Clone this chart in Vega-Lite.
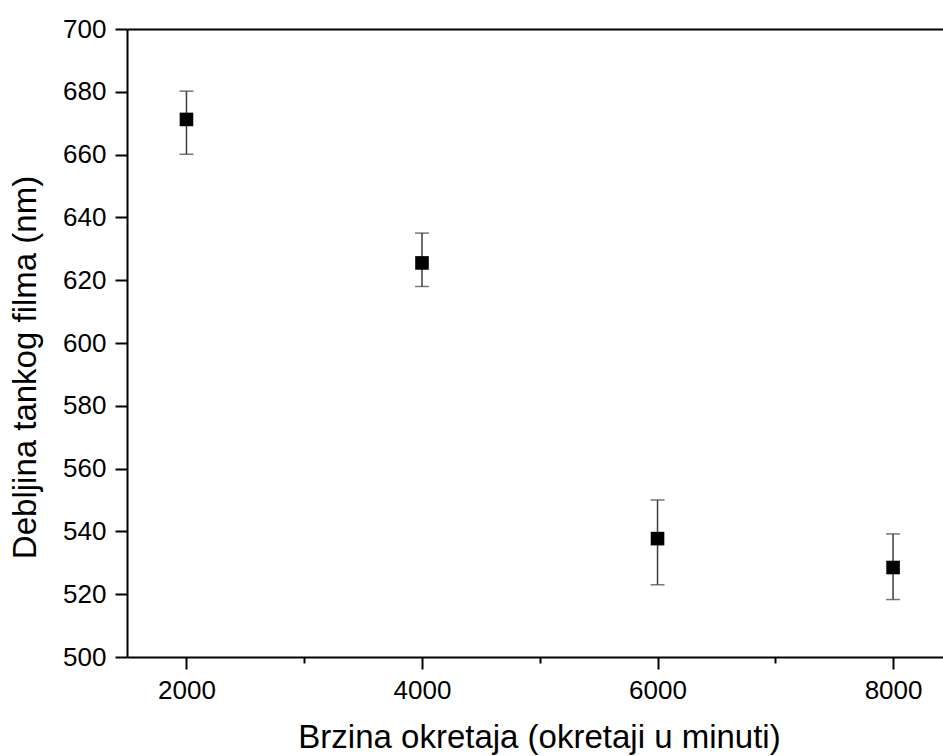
{
  "$schema": "https://vega.github.io/schema/vega-lite/v6.json",
  "width": 816,
  "height": 628,
  "autosize": "none",
  "padding": {"left": 127, "top": 29, "right": 0, "bottom": 99},
  "background": "white",
  "config": {"view": {"stroke": null}, "font": "Liberation Sans"},
  "data": {"values": [
    {"rpm": 2000, "t": 671.2, "lo": 660.1, "hi": 680.2},
    {"rpm": 4000, "t": 625.5, "lo": 618.0, "hi": 635.0},
    {"rpm": 6000, "t": 537.7, "lo": 523.0, "hi": 550.0},
    {"rpm": 8000, "t": 528.5, "lo": 518.3, "hi": 539.2}
  ]},
  "layer": [
    {
      "mark": {"type": "rule", "color": "#3c3c3c", "strokeWidth": 1.5},
      "encoding": {
        "x": {"field": "rpm", "type": "quantitative",
          "scale": {"domain": [1495, 8424], "nice": false, "zero": false},
          "axis": {
            "orient": "bottom",
            "values": [2000, 3000, 4000, 5000, 6000, 7000, 8000],
            "format": "d",
            "labelExpr": "datum.value % 2000 === 0 ? datum.label : ''",
            "tickSize": {"condition": {"test": "datum.value % 2000 === 0", "value": 12}, "value": 6},
            "tickWidth": 2, "tickColor": "black",
            "domainColor": "black", "domainWidth": 2,
            "grid": false,
            "labelFont": "Liberation Sans", "labelFontSize": 26, "labelColor": "black", "labelPadding": 8,
            "labelOverlap": false, "labelFlush": false,
            "title": "Brzina okretaja (okretaji u minuti)",
            "titleFont": "Liberation Sans", "titleFontSize": 33, "titleFontWeight": "normal", "titleColor": "black",
            "titleX": 412, "titleY": 90, "titleAlign": "center", "titleBaseline": "alphabetic"
          }
        },
        "y": {"field": "lo", "type": "quantitative", "title": "Debljina tankog filma (nm)",
          "scale": {"domain": [500, 700], "nice": false, "zero": false},
          "axis": {
            "values": [500, 510, 520, 530, 540, 550, 560, 570, 580, 590, 600, 610, 620, 630, 640, 650, 660, 670, 680, 690, 700],
            "format": "d",
            "labelExpr": "datum.value % 20 === 0 ? datum.label : ''",
            "tickSize": {"condition": {"test": "datum.value % 20 === 0", "value": 12}, "value": 6},
            "tickWidth": 2, "tickColor": "black",
            "domainColor": "black", "domainWidth": 2,
            "grid": false,
            "labelFont": "Liberation Sans", "labelFontSize": 26, "labelColor": "black", "labelPadding": 9,
            "labelOverlap": false, "labelFlush": false,
            "titleFont": "Liberation Sans", "titleFontSize": 33, "titleFontWeight": "normal", "titleColor": "black",
            "titleX": -92, "titleY": 338, "titleAngle": 270, "titleAlign": "center", "titleBaseline": "alphabetic"
          }
        },
        "y2": {"field": "hi"}
      }
    },
    {
      "mark": {"type": "tick", "orient": "horizontal", "color": "#3c3c3c", "thickness": 1.5, "size": 14},
      "encoding": {
        "x": {"field": "rpm", "type": "quantitative", "axis": null},
        "y": {"field": "lo", "type": "quantitative", "title": "Debljina tankog filma (nm)"}
      }
    },
    {
      "mark": {"type": "tick", "orient": "horizontal", "color": "#3c3c3c", "thickness": 1.5, "size": 14},
      "encoding": {
        "x": {"field": "rpm", "type": "quantitative", "axis": null},
        "y": {"field": "hi", "type": "quantitative", "title": "Debljina tankog filma (nm)"}
      }
    },
    {
      "mark": {"type": "point", "shape": "square", "filled": true, "color": "black", "opacity": 1, "size": 185},
      "encoding": {
        "x": {"field": "rpm", "type": "quantitative", "axis": null},
        "y": {"field": "t", "type": "quantitative", "title": "Debljina tankog filma (nm)"}
      }
    },
    {
      "mark": {"type": "point", "opacity": 0},
      "encoding": {
        "x": {"field": "rpm", "type": "quantitative",
          "axis": {"orient": "top", "ticks": false, "labels": false, "title": null, "grid": false,
            "domainColor": "black", "domainWidth": 2}},
        "y": {"field": "t", "type": "quantitative", "title": "Debljina tankog filma (nm)"}
      }
    }
  ],
  "resolve": {"axis": {"x": "independent"}}
}
